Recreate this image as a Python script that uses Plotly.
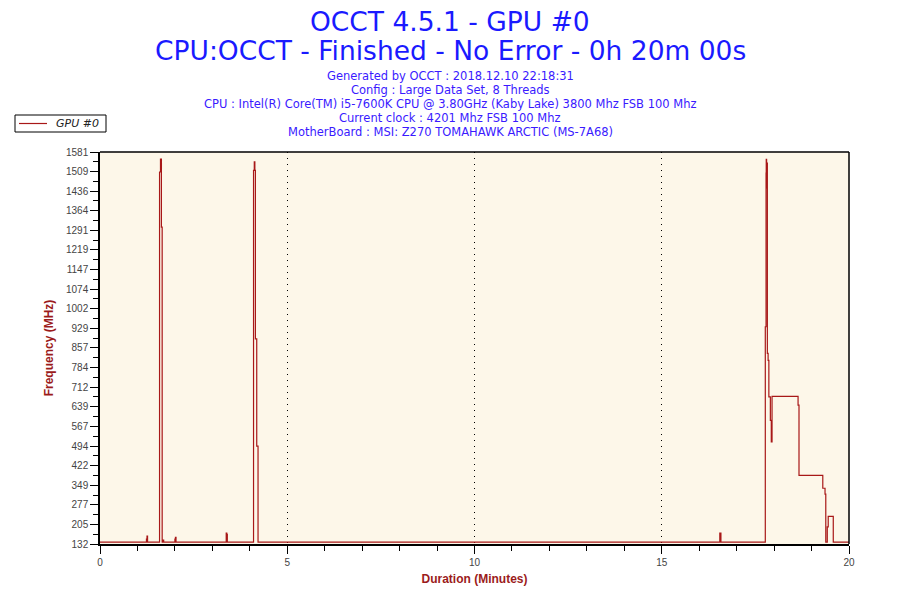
import plotly.graph_objects as go

# GPU #0 frequency samples (time in minutes, MHz)
minutes = [0, 1.24, 1.255, 1.27,
           1.59, 1.615, 1.64, 1.66, 1.68, 1.70,
           2.00, 2.015, 2.03,
           3.37, 3.385, 3.40,
           4.10, 4.12, 4.135, 4.15, 4.185, 4.22,
           16.55, 16.58,
           17.765, 17.785, 17.79, 17.80, 17.81, 17.82, 17.84, 17.86,
           17.90, 17.925, 17.945, 18.64, 18.665, 19.30, 19.36, 19.38,
           19.42, 19.445, 19.58, 20.0]
freq_mhz = [139, 150, 161, 139,
            1507, 1555, 1303, 139, 146, 139,
            150, 157, 139,
            172, 168, 139,
            1513, 1545, 1513, 890, 494, 139,
            172, 139,
            935, 1503, 1554, 1448, 1540, 837, 811, 676,
            589, 509, 678, 645, 386, 338, 316, 139,
            195, 234, 139, 139]

y_ticks = [132, 205, 277, 349, 422, 494, 567, 639, 712, 784, 857, 929,
           1002, 1074, 1147, 1219, 1291, 1364, 1436, 1509, 1581]
x_ticks = [0, 5, 10, 15, 20]

title_lines = ["OCCT 4.5.1 - GPU #0",
               "CPU:OCCT - Finished - No Error - 0h 20m 00s"]
info_lines = ["Generated by OCCT : 2018.12.10 22:18:31",
              "Config : Large Data Set, 8 Threads",
              "CPU : Intel(R) Core(TM) i5-7600K CPU @ 3.80GHz (Kaby Lake) 3800 Mhz FSB 100 Mhz",
              "Current clock : 4201 Mhz FSB 100 Mhz",
              "MotherBoard : MSI: Z270 TOMAHAWK ARCTIC (MS-7A68)"]
legend_name = "GPU #0"

line_red = "#a81818"
axis_red = "#9b1b1b"
font = "DejaVu Sans"
sans = "Liberation Sans"

# plot area in page pixels (page has an 8px body margin)
PX0, PX1, PY0, PY1 = 100, 849, 152, 544
W, H = PX1 - PX0, PY1 - PY0


def px(x):
    return (x - PX0) / W


def py(y):
    return (PY1 - y) / H


fig = go.Figure()
fig.add_trace(go.Scatter(x=minutes, y=freq_mhz, mode="lines", name=legend_name,
                         showlegend=False,
                         line=dict(color=line_red, width=1.2, shape="hv")))

fig.update_layout(
    width=900, height=600,
    margin=dict(l=PX0 - 8, r=900 - PX1 + 8, t=PY0 - 8, b=600 - PY1 + 8),
    paper_bgcolor="white",
    plot_bgcolor="#fdf7e9",
    font=dict(family=sans, size=10, color="#333333"),
    showlegend=False,
)

fig.update_xaxes(range=[0, 20], tickvals=x_ticks, ticks="outside", ticklen=8,
                 tickcolor="black", showline=True, linecolor="black", linewidth=1.5,
                 showgrid=True, gridcolor="black", griddash="1px,5px",
                 gridwidth=1, zeroline=False, automargin=False,
                 tickfont=dict(family=sans, size=10, color="#444444"),
                 minor=dict(dtick=1, ticks="outside", ticklen=5, tickcolor="black",
                            showgrid=False),
                 title=dict(text="<b>Duration (Minutes)</b>", standoff=8,
                            font=dict(family=sans, size=12, color=axis_red)))

fig.update_yaxes(range=[132, 1581], tickvals=y_ticks, ticks="outside", ticklen=8,
                 tickcolor="black", showline=True, linecolor="black", linewidth=1.5,
                 showgrid=False, zeroline=False, automargin=False,
                 tickfont=dict(family=sans, size=10, color="#444444"),
                 minor=dict(tickvals=[(a + b) / 2 for a, b in zip(y_ticks[:-1], y_ticks[1:])],
                            ticks="outside", ticklen=5, tickcolor="black", showgrid=False),
                 title=dict(text="<b>Frequency (MHz)</b>", standoff=10,
                            font=dict(family=sans, size=12, color=axis_red)))

# top border of the plot area and right edge
fig.add_shape(type="line", xref="paper", yref="paper", x0=0, x1=1, y0=1, y1=1,
              line=dict(color="black", width=1.5))
fig.add_shape(type="line", xref="paper", yref="paper", x0=1, x1=1, y0=0, y1=1,
              line=dict(color="black", width=1.5))

# legend box drawn by hand, top left outside the plot
fig.add_shape(type="rect", xref="paper", yref="paper",
              x0=px(15), x1=px(106), y0=py(132), y1=py(115),
              fillcolor="white", line=dict(color="black", width=1))
fig.add_shape(type="line", xref="paper", yref="paper",
              x0=px(19), x1=px(47), y0=py(123.5), y1=py(123.5),
              line=dict(color=line_red, width=1.2))
fig.add_annotation(text="<i>" + legend_name + "</i>", xref="paper", yref="paper",
                   x=px(54), y=py(123.5), xanchor="left", yanchor="middle",
                   showarrow=False, font=dict(family=font, size=11, color="#222222"))

for text, ypx in zip(title_lines, [21, 50]):
    fig.add_annotation(text=text, xref="paper", yref="paper", x=px(450),
                       y=py(ypx), xanchor="center", yanchor="middle", borderpad=0,
                       showarrow=False, font=dict(family=font, size=26.5, color="#1a1aff"))

for i, text in enumerate(info_lines):
    fig.add_annotation(text=text, xref="paper", yref="paper", x=px(450),
                       y=py(76 + i * 14), xanchor="center", yanchor="middle",
                       showarrow=False, font=dict(family=font, size=11.5, color="#3a1aff"))

fig.write_html("out.html")
